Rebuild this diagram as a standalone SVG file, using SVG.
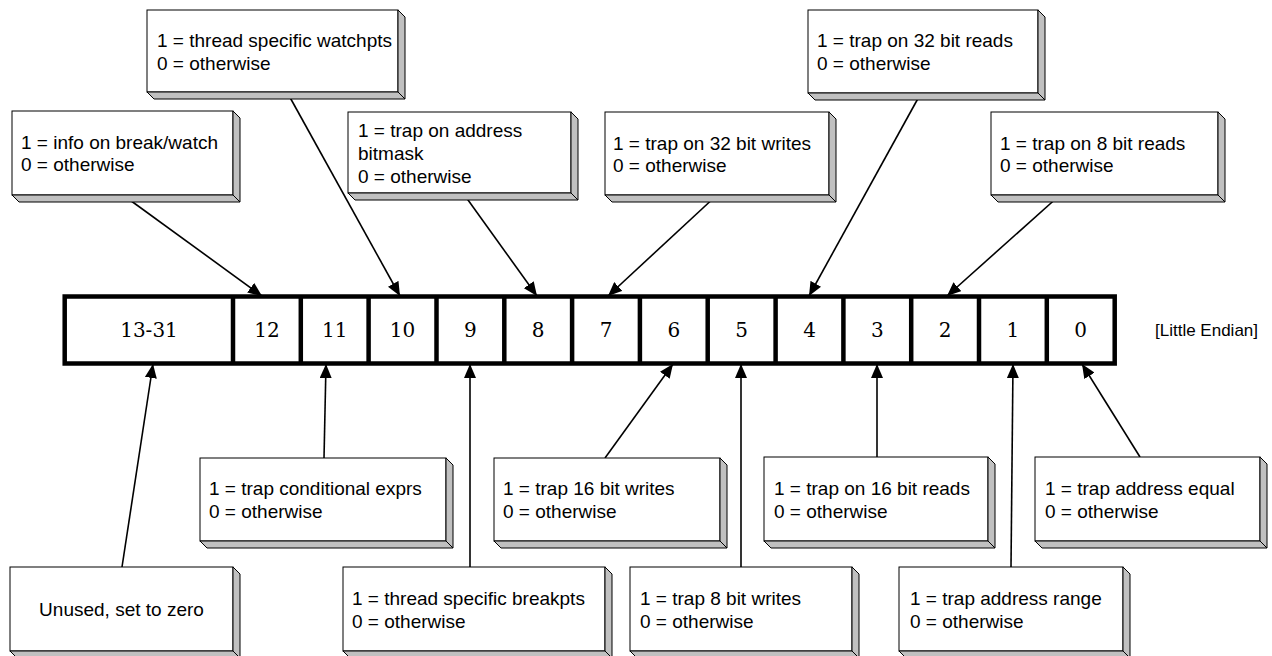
<svg xmlns="http://www.w3.org/2000/svg" width="1272" height="656" viewBox="0 0 1272 656">
<style>
.face{fill:#fff;stroke:#000;stroke-width:1}
.side{fill:#c0c0c0;stroke:#000;stroke-width:1;stroke-linejoin:miter}
.t{font-family:"Liberation Sans",Arial,sans-serif;font-size:19px;fill:#000}
.n{font-family:"DejaVu Serif",serif;font-size:20px;fill:#000;text-anchor:middle}
.reg{fill:#fff;stroke:#000;stroke-width:4.5}
.div{stroke:#000;stroke-width:4.5}
.c{stroke:#000;stroke-width:1.6;fill:none;marker-end:url(#ah)}
</style>
<defs>
<marker id="ah" viewBox="0 0 14 12" refX="14" refY="6" markerWidth="14" markerHeight="12" markerUnits="userSpaceOnUse" orient="auto">
<path d="M0,0 L14,6 L0,12 z" fill="#000"/>
</marker>
</defs>
<rect width="1272" height="656" fill="#fff"/>

<g id="register">
<rect class="reg" x="64.7" y="296.5" width="1050" height="67"/>
<line class="div" x1="233" y1="296.5" x2="233" y2="363.5"/>
<line class="div" x1="300.8" y1="296.5" x2="300.8" y2="363.5"/>
<line class="div" x1="368.6" y1="296.5" x2="368.6" y2="363.5"/>
<line class="div" x1="436.5" y1="296.5" x2="436.5" y2="363.5"/>
<line class="div" x1="504.3" y1="296.5" x2="504.3" y2="363.5"/>
<line class="div" x1="572.1" y1="296.5" x2="572.1" y2="363.5"/>
<line class="div" x1="639.9" y1="296.5" x2="639.9" y2="363.5"/>
<line class="div" x1="707.7" y1="296.5" x2="707.7" y2="363.5"/>
<line class="div" x1="775.6" y1="296.5" x2="775.6" y2="363.5"/>
<line class="div" x1="843.4" y1="296.5" x2="843.4" y2="363.5"/>
<line class="div" x1="911.2" y1="296.5" x2="911.2" y2="363.5"/>
<line class="div" x1="979" y1="296.5" x2="979" y2="363.5"/>
<line class="div" x1="1046.8" y1="296.5" x2="1046.8" y2="363.5"/>
<text class="n" x="149" y="337">13-31</text>
<text class="n" x="267" y="337">12</text>
<text class="n" x="334.7" y="337">11</text>
<text class="n" x="402.5" y="337">10</text>
<text class="n" x="470.4" y="337">9</text>
<text class="n" x="538.2" y="337">8</text>
<text class="n" x="606" y="337">7</text>
<text class="n" x="673.8" y="337">6</text>
<text class="n" x="741.6" y="337">5</text>
<text class="n" x="809.5" y="337">4</text>
<text class="n" x="877.3" y="337">3</text>
<text class="n" x="945.1" y="337">2</text>
<text class="n" x="1012.9" y="337">1</text>
<text class="n" x="1080.7" y="337">0</text>
</g>
<text id="endian" class="t" style="font-size:17px" x="1155" y="336">[Little Endian]</text>

<g id="connectors">
<line class="c" x1="123" y1="195" x2="262" y2="296"/>
<line class="c" x1="287" y1="92" x2="400" y2="296"/>
<line class="c" x1="463" y1="193" x2="537" y2="296"/>
<line class="c" x1="717" y1="195" x2="608" y2="296"/>
<line class="c" x1="921" y1="93" x2="809" y2="296"/>
<line class="c" x1="1060" y1="195" x2="947" y2="296"/>
<line class="c" x1="122" y1="567" x2="153" y2="364"/>
<line class="c" x1="324" y1="458" x2="326" y2="364"/>
<line class="c" x1="470" y1="567" x2="470" y2="364"/>
<line class="c" x1="605" y1="458" x2="673" y2="364"/>
<line class="c" x1="741" y1="567" x2="741" y2="364"/>
<line class="c" x1="877" y1="457" x2="877" y2="364"/>
<line class="c" x1="1011" y1="567" x2="1013" y2="364"/>
<line class="c" x1="1140" y1="457" x2="1082" y2="364"/>
</g>

<g id="boxA">
<rect class="face" x="12" y="111" width="221" height="84"/>
<polygon class="side" points="233,111 240,118 240,202 233,195"/>
<polygon class="side" points="12,195 233,195 240,202 19,202"/>
<text class="t" x="21" y="149">1 = info on break/watch</text>
<text class="t" x="21" y="171">0 = otherwise</text>
</g>
<g id="boxB">
<rect class="face" x="147" y="10" width="251" height="82"/>
<polygon class="side" points="398,10 405,17 405,99 398,92"/>
<polygon class="side" points="147,92 398,92 405,99 154,99"/>
<text class="t" x="157" y="47">1 = thread specific watchpts</text>
<text class="t" x="157" y="70">0 = otherwise</text>
</g>
<g id="boxC">
<rect class="face" x="348" y="112" width="223" height="81"/>
<polygon class="side" points="571,112 578,119 578,200 571,193"/>
<polygon class="side" points="348,193 571,193 578,200 355,200"/>
<text class="t" x="358" y="137">1 = trap on address</text>
<text class="t" x="358" y="160">bitmask</text>
<text class="t" x="358" y="183">0 = otherwise</text>
</g>
<g id="boxD">
<rect class="face" x="605" y="112" width="224" height="83"/>
<polygon class="side" points="829,112 836,119 836,202 829,195"/>
<polygon class="side" points="605,195 829,195 836,202 612,202"/>
<text class="t" x="613" y="150">1 = trap on 32 bit writes</text>
<text class="t" x="613" y="172">0 = otherwise</text>
</g>
<g id="boxE">
<rect class="face" x="808" y="10" width="230" height="83"/>
<polygon class="side" points="1038,10 1045,17 1045,100 1038,93"/>
<polygon class="side" points="808,93 1038,93 1045,100 815,100"/>
<text class="t" x="817" y="47">1 = trap on 32 bit reads</text>
<text class="t" x="817" y="70">0 = otherwise</text>
</g>
<g id="boxF">
<rect class="face" x="991" y="112" width="227" height="83"/>
<polygon class="side" points="1218,112 1225,119 1225,202 1218,195"/>
<polygon class="side" points="991,195 1218,195 1225,202 998,202"/>
<text class="t" x="1000" y="150">1 = trap on 8 bit reads</text>
<text class="t" x="1000" y="172">0 = otherwise</text>
</g>
<g id="boxG">
<rect class="face" x="10" y="567" width="223" height="84"/>
<polygon class="side" points="233,567 240,574 240,658 233,651"/>
<polygon class="side" points="10,651 233,651 240,658 17,658"/>
<text class="t" x="121.5" y="616" text-anchor="middle">Unused, set to zero</text>
</g>
<g id="boxH">
<rect class="face" x="200" y="458" width="246" height="83"/>
<polygon class="side" points="446,458 453,465 453,548 446,541"/>
<polygon class="side" points="200,541 446,541 453,548 207,548"/>
<text class="t" x="209" y="495">1 = trap conditional exprs</text>
<text class="t" x="209" y="518">0 = otherwise</text>
</g>
<g id="boxI">
<rect class="face" x="343" y="567" width="262" height="84"/>
<polygon class="side" points="605,567 612,574 612,658 605,651"/>
<polygon class="side" points="343,651 605,651 612,658 350,658"/>
<text class="t" x="352" y="605">1 = thread specific breakpts</text>
<text class="t" x="352" y="628">0 = otherwise</text>
</g>
<g id="boxJ">
<rect class="face" x="494" y="458" width="226" height="83"/>
<polygon class="side" points="720,458 727,465 727,548 720,541"/>
<polygon class="side" points="494,541 720,541 727,548 501,548"/>
<text class="t" x="503" y="495">1 = trap 16 bit writes</text>
<text class="t" x="503" y="518">0 = otherwise</text>
</g>
<g id="boxK">
<rect class="face" x="630" y="567" width="222" height="84"/>
<polygon class="side" points="852,567 859,574 859,658 852,651"/>
<polygon class="side" points="630,651 852,651 859,658 637,658"/>
<text class="t" x="640" y="605">1 = trap 8 bit writes</text>
<text class="t" x="640" y="628">0 = otherwise</text>
</g>
<g id="boxL">
<rect class="face" x="764" y="457" width="224" height="84"/>
<polygon class="side" points="988,457 995,464 995,548 988,541"/>
<polygon class="side" points="764,541 988,541 995,548 771,548"/>
<text class="t" x="774" y="495">1 = trap on 16 bit reads</text>
<text class="t" x="774" y="518">0 = otherwise</text>
</g>
<g id="boxM">
<rect class="face" x="1035" y="457" width="225" height="84"/>
<polygon class="side" points="1260,457 1267,464 1267,548 1260,541"/>
<polygon class="side" points="1035,541 1260,541 1267,548 1042,548"/>
<text class="t" x="1045" y="495">1 = trap address equal</text>
<text class="t" x="1045" y="518">0 = otherwise</text>
</g>
<g id="boxN">
<rect class="face" x="899" y="567" width="224" height="84"/>
<polygon class="side" points="1123,567 1130,574 1130,658 1123,651"/>
<polygon class="side" points="899,651 1123,651 1130,658 906,658"/>
<text class="t" x="910" y="605">1 = trap address range</text>
<text class="t" x="910" y="628">0 = otherwise</text>
</g>
</svg>
